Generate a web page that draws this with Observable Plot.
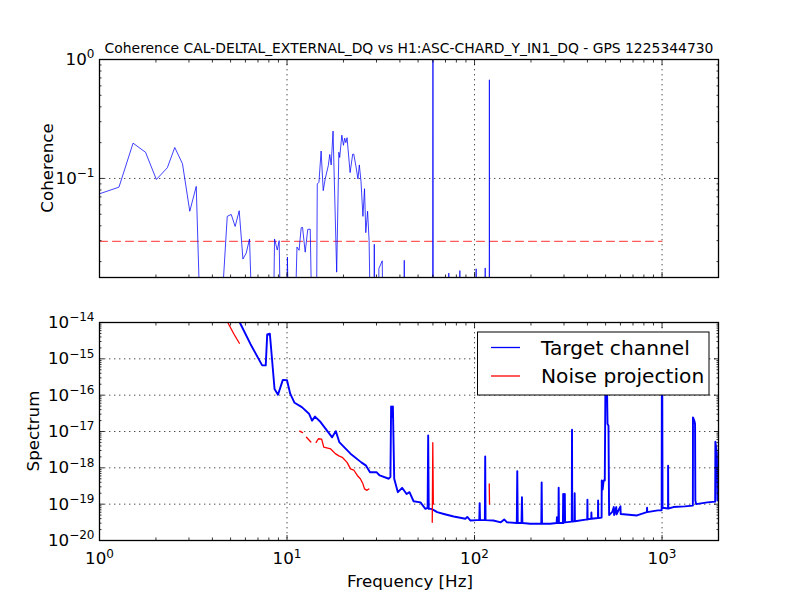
<!DOCTYPE html>
<html><head><meta charset="utf-8">
<script src="https://cdn.jsdelivr.net/npm/d3@7"></script>
<script src="https://cdn.jsdelivr.net/npm/@observablehq/plot@0.6"></script>
<style>
body{margin:0;background:#fff;}
#wrap{position:relative;width:800px;height:600px;background:#fff;overflow:hidden;font-family:"DejaVu Sans",sans-serif;}
#wrap > svg{position:absolute;left:0;}
</style></head><body><div id="wrap"></div>
<script>
// ---- data ----
const cohFreq = [1.00,1.27,1.51,1.76,2.01,2.30,2.52,2.77,3.03,3.28,3.46,4.40,4.80,5.04,5.29,5.56,5.82,6.06,6.31,6.55,
  8.45,8.58,8.87,9.08,9.25,9.95,10.05,10.2,11.0,11.3,11.6,11.9,12.1,12.5,12.9,13.3,13.6,14.35,14.5,14.8,15.2,15.6,16.0,
  16.6,16.9,17.2,17.6,18.4,18.9,19.1,19.6,20.0,20.3,20.6,20.9,21.7,22.4,22.7,23.3,23.9,24.3,24.8,25.4,25.9,26.3,26.9,
  27.4,27.9,29.0,29.2,29.5,30.7,30.9,32.2,32.5,41.9,42.2,42.5,59.7,59.85,60.15,60.3,72.6,72.9,73.2,83.2,83.5,83.8,
  101.7,102,102.3,113.7,114,114.3,119.7,120,120.3,2000];
const cohValue = [0.0743,0.0845,0.198,0.166,0.098,0.123,0.182,0.133,0.053,0.0857,0.005,0.005,0.048,0.0498,0.0395,0.0535,0.021,0.0236,0.031,0.005,
  0.005,0.031,0.025,0.030,0.005,0.005,0.0218,0.005,0.005,0.0265,0.0249,0.0385,0.0388,0.024,0.0373,0.0375,0.005,0.005,0.090,0.093,0.17,0.079,0.10,
  0.128,0.159,0.13,0.25,0.0163,0.166,0.15,0.231,0.19,0.218,0.20,0.22,0.112,0.16,0.16,0.127,0.099,0.13,0.095,0.048,0.082,0.035,0.053,
  0.030,0.005,0.005,0.028,0.005,0.005,0.0175,0.0203,0.005,0.005,0.0205,0.005,0.005,1.0,1.0,0.005,0.005,0.016,0.005,0.005,0.0168,0.005,
  0.005,0.0174,0.005,0.005,0.0177,0.005,0.005,0.675,0.005,0.005];
const threshFreq = [1, 1000];
const threshValue = [0.0296, 0.0296];

const targetFreq = [5.0,5.6,6.38,7.37,7.7,7.84,8.1,8.3,8.58,8.95,9.5,10.0,10.4,10.97,12.0,13.1,13.6,14.1,15.1,17.4,18.2,19.0,
  21.8,24.9,26.4,27.7,30.0,31.2,34.9,35.6,35.9,36.3,36.7,37.3,39.0,41.1,43.4,45.0,47.3,51.5,54.7,56.2,56.6,57.0,58.6,60.0,
  63.2,68.6,77.4,89.4,91.5,95.2,103,106,106.5,107,113.5,114,114.5,126,138,144,149,168,169,170,178,179,180,198,227,228,229,
  253,274,275,276,280,281,282,296,297,298,302,303,304,330,331,332,341,342,343,399,400,401,419,420,421,455,456,457,476,477,
  482,488,495,500,506,512,518,522,543,553,555,570,572,600,602,735,830,832,834,950,995,998,1002,1006,1076,1077,1080,1150,
  1320,1460,1462,1490,1500,1505,1520,1745,1920,1925,1960,1975,2000];
const targetLog10 = [-13.75,-14.0,-14.59,-15.18,-15.18,-14.33,-14.31,-14.95,-15.83,-15.99,-15.58,-15.59,-15.96,-16.21,-16.33,-16.51,-16.70,-16.59,-16.74,-17.16,-16.99,-17.29,
  -17.61,-17.85,-17.94,-18.12,-18.12,-18.21,-18.30,-18.25,-16.31,-16.6,-16.31,-18.30,-18.67,-18.55,-18.72,-18.67,-18.92,-18.95,-19.13,-19.10,-17.11,-19.13,-19.13,-19.15,
  -19.22,-19.27,-19.34,-19.40,-19.35,-19.45,-19.44,-19.44,-18.97,-19.44,-19.44,-17.69,-19.44,-19.45,-19.50,-19.42,-19.50,-19.52,-18.09,-19.52,-19.52,-18.81,-19.52,-19.54,-19.54,-18.40,-19.54,
  -19.54,-19.52,-19.36,-19.52,-19.52,-18.55,-19.52,-19.52,-18.72,-19.52,-19.50,-18.72,-19.50,-19.48,-16.95,-19.48,-19.47,-18.70,-19.47,-19.42,-18.88,-19.42,-19.40,-19.23,-19.40,-19.38,-18.90,-19.38,-19.37,-18.35,
  -18.6,-18.35,-18.35,-15.0,-15.0,-16.79,-16.84,-19.30,-19.21,-19.08,-19.30,-19.08,-19.28,-19.06,-19.27,-19.31,-19.22,-19.10,-19.22,-19.17,-19.17,-15.0,-15.0,-19.10,-19.12,-17.94,-19.12,-19.08,
  -19.06,-19.04,-16.61,-16.72,-16.80,-18.90,-19.00,-18.95,-18.93,-17.28,-17.60,-18.90,-18.88];

const noiseFreq = [4.6,4.83,5.2,5.57,5.6, 11.7,12.1,12.3, 12.7,13.4,13.7, 14.3,14.7,15.3,15.7,17.1,18.1,18.9,19.7,20.9,21.8,22.7,23.7,24.6,25.4,25.9,26.7,27.3,27.5,
  59.5,59.9,60.3,60.5, 119.8,120.2];
const noiseLog10 = [-13.7,-14.0,-14.31,-14.57,null, -16.99,-17.03,null, -17.16,-17.29,null, -17.30,-17.20,-17.21,-17.43,-17.48,-17.61,-17.67,-17.71,-17.85,-18.03,-18.06,-18.21,-18.30,-18.44,-18.58,-18.62,-18.58,null,
  -19.5,-17.31,-19.0,null, -18.44,-19.0];

const xMajor = [1, 10, 100, 1000];
const cohMajor = [0.1, 1];
const specMajor = [1e-20,1e-19,1e-18,1e-17,1e-16,1e-15,1e-14];
const minorMult = [2,3,4,5,6,7,8,9];

const title = "Coherence CAL-DELTAL_EXTERNAL_DQ vs H1:ASC-CHARD_Y_IN1_DQ - GPS 1225344730";
const legendLabels = ["Target channel", "Noise projection"];
const legendColors = ["#0000ff", "#ff0000"];

// ---- helpers ----
const xMinor = xMajor.flatMap(d => minorMult.map(m => m * d)).filter(v => v <= 2000);
const cohMinor = [0.01, 0.1].flatMap(d => minorMult.map(m => m * d)).filter(v => v >= 0.0147 && v <= 1);
const specMinor = specMajor.slice(0, -1).flatMap(d => minorMult.map(m => m * d));
const pow = e => "10^" + String(Math.round(Math.log10(e))).replace("-", "\u2212");

const coh = cohFreq.map((f, i) => ({f, v: cohValue[i]}));
const thr = threshFreq.map((f, i) => ({f, v: threshValue[i]}));
const tgt = targetFreq.map((f, i) => ({f, v: 10 ** targetLog10[i]}));
const noi = noiseFreq.map((f, i) => ({f, v: noiseLog10[i] == null ? NaN : 10 ** noiseLog10[i]}));

const gridStyle = {stroke: "black", strokeOpacity: 1, strokeWidth: 0.7, strokeDasharray: "1.4,3.6"};
const noText = () => "";

function tickMarks(xMaj, xMin, yMaj, yMin) {
  const out = [];
  for (const a of ["bottom", "top"]) {
    out.push(Plot.axisX(xMaj, {anchor: a, tickSize: -5, tickFormat: noText, label: null, strokeWidth: 0.8}));
    out.push(Plot.axisX(xMin, {anchor: a, tickSize: -2.5, tickFormat: noText, label: null, strokeWidth: 0.8}));
  }
  for (const a of ["left", "right"]) {
    out.push(Plot.axisY(yMaj, {anchor: a, tickSize: -5, tickFormat: noText, label: null, strokeWidth: 0.8}));
    out.push(Plot.axisY(yMin, {anchor: a, tickSize: -2.5, tickFormat: noText, label: null, strokeWidth: 0.8}));
  }
  return out;
}

const plotStyle = {fontFamily: "DejaVu Sans", fontSize: "16.7px", color: "black", background: "transparent", overflow: "visible"};

const topPlot = Plot.plot({
  width: 800, height: 300, marginLeft: 99, marginRight: 82, marginTop: 59, marginBottom: 23,
  style: plotStyle,
  x: {type: "log", domain: [1, 2000]},
  y: {type: "log", domain: [0.0147, 1]},
  marks: [
    Plot.gridX(xMajor, gridStyle),
    Plot.gridY(cohMajor, gridStyle),
    Plot.line(thr, {x: "f", y: "v", stroke: "#ff5a5a", strokeWidth: 1.1, strokeDasharray: "8,5"}),
    Plot.line(coh, {x: "f", y: "v", stroke: "#0000ff", strokeOpacity: 0.75, strokeWidth: 1, clip: true}),
    Plot.frame({stroke: "black", strokeWidth: 1.3}),
    ...tickMarks(xMajor, xMinor, cohMajor, cohMinor),
    Plot.axisY(cohMajor, {anchor: "left", tickSize: 0, tickPadding: 5, tickFormat: pow, label: null})
  ]
});
topPlot.style.top = "0px";

const bottomPlot = Plot.plot({
  width: 800, height: 300, marginLeft: 99, marginRight: 82, marginTop: 22, marginBottom: 60,
  style: plotStyle,
  x: {type: "log", domain: [1, 2000]},
  y: {type: "log", domain: [1e-20, 1e-14]},
  marks: [
    Plot.gridX(xMajor, gridStyle),
    Plot.gridY(specMajor, gridStyle),
    Plot.line(tgt, {x: "f", y: "v", stroke: "#0000ff", strokeWidth: 1.9, clip: true}),
    Plot.line(noi, {x: "f", y: "v", stroke: "#ff0000", strokeWidth: 1.3, clip: true}),
    Plot.frame({stroke: "black", strokeWidth: 1.3}),
    ...tickMarks(xMajor, xMinor, specMajor, specMinor),
    Plot.axisY(specMajor, {anchor: "left", tickSize: 0, tickPadding: 5, tickFormat: pow, label: null}),
    Plot.axisX(xMajor, {anchor: "bottom", tickSize: 0, tickPadding: 12, tickFormat: pow, label: null})
  ]
});
bottomPlot.style.top = "300px";

const wrap = document.getElementById("wrap");
wrap.appendChild(topPlot);
wrap.appendChild(bottomPlot);

// superscripts for tick labels
const NS = "http://www.w3.org/2000/svg";
for (const svg of [topPlot, bottomPlot]) {
  svg.querySelectorAll("text").forEach(t => {
    const s = t.textContent;
    const i = s.indexOf("^");
    if (i < 0) return;
    t.textContent = s.slice(0, i);
    const ts = document.createElementNS(NS, "tspan");
    ts.setAttribute("dy", "-0.55em");
    ts.setAttribute("font-size", "0.72em");
    ts.textContent = s.slice(i + 1);
    t.appendChild(ts);
  });
}

// overlay: title, axis labels, legend
const ov = d3.create("svg").attr("width", 800).attr("height", 600)
  .style("position", "absolute").style("left", "0px").style("top", "0px")
  .style("font-family", "DejaVu Sans");
ov.append("text").attr("x", 409).attr("y", 53).attr("text-anchor", "middle").attr("font-size", 13.9).text(title);
ov.append("text").attr("transform", "translate(53,168) rotate(-90)").attr("text-anchor", "middle").attr("font-size", 16.7).text("Coherence");
ov.append("text").attr("transform", "translate(39,431) rotate(-90)").attr("text-anchor", "middle").attr("font-size", 16.7).text("Spectrum");
ov.append("text").attr("x", 410).attr("y", 587).attr("text-anchor", "middle").attr("font-size", 16.7).text("Frequency [Hz]");
const lg = ov.append("g");
lg.append("rect").attr("x", 477.5).attr("y", 332).attr("width", 231.5).attr("height", 63).attr("fill", "white").attr("stroke", "black").attr("stroke-width", 1);
legendLabels.forEach((lab, i) => {
  const yy = 347.5 + i * 28.5;
  lg.append("line").attr("x1", 491).attr("x2", 520).attr("y1", yy).attr("y2", yy).attr("stroke", legendColors[i]).attr("stroke-width", 1.3);
  lg.append("text").attr("x", 541).attr("y", yy + 7).attr("font-size", 20.2).text(lab);
});
wrap.appendChild(ov.node());
</script></body></html>
